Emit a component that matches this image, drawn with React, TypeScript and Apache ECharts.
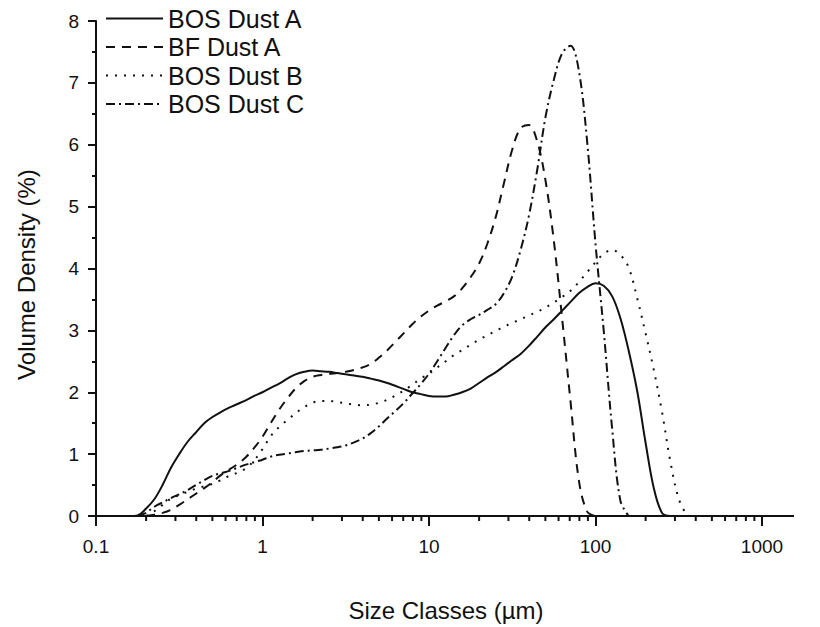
import React, { useEffect, useRef } from "react";
import * as echarts from "echarts";

// Size classes (µm), 20 classes per decade, as in a laser-diffraction report
const sizeClasses = [
  0.158, 0.178, 0.2, 0.224, 0.251, 0.282, 0.316, 0.355, 0.398, 0.447,
  0.501, 0.562, 0.631, 0.708, 0.794, 0.891, 1.0, 1.12, 1.26, 1.41,
  1.58, 1.78, 2.0, 2.24, 2.51, 2.82, 3.16, 3.55, 3.98, 4.47,
  5.01, 5.62, 6.31, 7.08, 7.94, 8.91, 10.0, 11.2, 12.6, 14.1,
  15.8, 17.8, 20.0, 22.4, 25.1, 28.2, 31.6, 35.5, 39.8, 44.7,
  50.1, 56.2, 63.1, 70.8, 79.4, 89.1, 100, 112, 126, 141,
  158, 178, 200, 224, 251, 282, 316, 355,
];

// Volume density (%) per size class (null = not drawn)
const bosDustA = [
  0, 0.01, 0.12, 0.27, 0.5, 0.78, 1.0, 1.2, 1.35, 1.5,
  1.6, 1.68, 1.75, 1.81, 1.87, 1.94, 2.0, 2.07, 2.14, 2.22,
  2.29, 2.33, 2.35, 2.34, 2.33, 2.31, 2.29, 2.27, 2.25, 2.22,
  2.19, 2.15, 2.1, 2.05, 2.0, 1.97, 1.94, 1.93, 1.93, 1.96,
  2.0, 2.06, 2.15, 2.24, 2.32, 2.42, 2.52, 2.62, 2.75, 2.9,
  3.05, 3.18, 3.32, 3.46, 3.6, 3.7, 3.76, 3.72, 3.55, 3.2,
  2.68, 2.02, 1.18, 0.45, 0.05, 0, null, null,
];
const bfDustA = [
  null, null, 0, 0.02, 0.05, 0.1, 0.18, 0.27, 0.36, 0.45,
  0.55, 0.66, 0.75, 0.84, 0.95, 1.1, 1.28, 1.5, 1.72, 1.9,
  2.06, 2.18, 2.25, 2.28, 2.3, 2.31, 2.33, 2.36, 2.4, 2.46,
  2.56, 2.68, 2.82, 2.96, 3.1, 3.22, 3.32, 3.4, 3.47, 3.55,
  3.68, 3.86, 4.08, 4.4, 4.82, 5.38, 5.92, 6.27, 6.32, 6.05,
  5.42, 4.45, 3.18, 1.85, 0.58, 0.07, 0, null, null, null,
  null, null, null, null, null, null, null, null,
];
const bosDustB = [
  null, null, 0, 0.08, 0.18, 0.28, 0.34, 0.39, 0.44, 0.48,
  0.52, 0.58, 0.65, 0.7, 0.77, 0.9, 1.08, 1.29, 1.44, 1.55,
  1.66, 1.76, 1.83, 1.86, 1.86, 1.84, 1.82, 1.8, 1.79, 1.8,
  1.83, 1.88, 1.95, 2.03, 2.12, 2.22, 2.3, 2.4, 2.5, 2.6,
  2.68, 2.77, 2.85, 2.92, 2.99, 3.06, 3.12, 3.18, 3.24, 3.3,
  3.37, 3.45, 3.54, 3.64, 3.78, 3.94, 4.1, 4.24, 4.3, 4.22,
  4.02, 3.52, 2.95, 2.36, 1.68, 0.87, 0.28, 0,
];
const bosDustC = [
  null, 0, 0.05, 0.15, 0.22, 0.29, 0.35, 0.42, 0.5, 0.58,
  0.65, 0.69, 0.73, 0.78, 0.83, 0.87, 0.91, 0.96, 0.99, 1.01,
  1.03, 1.05, 1.06, 1.07, 1.09, 1.11, 1.14, 1.19, 1.25, 1.34,
  1.45, 1.58, 1.7, 1.83, 1.98, 2.13, 2.3, 2.5, 2.72, 2.92,
  3.08, 3.18, 3.25, 3.33, 3.42, 3.6, 3.87, 4.3, 4.85, 5.6,
  6.45, 7.05, 7.48, 7.6, 7.2, 6.05, 4.4, 3.0, 1.4, 0.25,
  0, null, null, null, null, null, null, null,
];

const seriesNames = ["BOS Dust A", "BF Dust A", "BOS Dust B", "BOS Dust C"];
const seriesValues = [bosDustA, bfDustA, bosDustB, bosDustC];
const xTickLabels = [0.1, 1, 10, 100, 1000];
const yMin = 0;
const yMax = 8;

const FONT = "'Liberation Sans', Arial, Helvetica, sans-serif";
const INK = "#111111";
const DASHES: any[] = ["solid", [9, 7], [2, 7], [9, 4, 2, 4]];

export default function App() {
  const ref = useRef<HTMLDivElement>(null);

  useEffect(() => {
    if (!ref.current) return;
    const chart = echarts.init(ref.current, undefined, { renderer: "svg" });

    const minorTicks: number[][] = [];
    for (let d = 0; d < xTickLabels.length - 1; d++) {
      for (let k = 2; k <= 9; k++) minorTicks.push([k * xTickLabels[d], 0]);
    }

    const lineSeries = seriesNames.map((name, i) => ({
      name,
      type: "line",
      data: sizeClasses.map((s, j) => [s, seriesValues[i][j]]),
      showSymbol: false,
      symbol: "none",
      connectNulls: false,
      smooth: 0.35,
      lineStyle: { color: INK, width: 2, type: DASHES[i] },
      itemStyle: { color: INK },
      z: 3,
    }));

    chart.setOption({
      animation: false,
      backgroundColor: "#ffffff",
      textStyle: { fontFamily: FONT },
      grid: { left: 96, right: 58, top: 21, bottom: 104 },
      legend: {
        data: seriesNames,
        orient: "vertical",
        left: 100,
        top: 1,
        itemWidth: 57,
        itemHeight: 14,
        itemGap: 3.5,
        itemStyle: { opacity: 0 },
        textStyle: { fontSize: 25, color: INK, fontFamily: FONT },
      },
      xAxis: {
        type: "log",
        logBase: 10,
        min: xTickLabels[0],
        max: xTickLabels[xTickLabels.length - 1],
        name: "Size Classes (µm)",
        nameLocation: "middle",
        nameGap: 82,
        nameTextStyle: { fontSize: 24, color: INK, fontFamily: FONT, padding: [0, 0, 0, 34] },
        axisLine: { show: true, onZero: false, lineStyle: { color: INK, width: 2 } },
        axisTick: { show: true, inside: false, length: 10, lineStyle: { color: INK, width: 2 } },
        axisLabel: {
          fontSize: 19,
          color: INK,
          margin: 21,
          fontFamily: FONT,
          formatter: (v: number) => (v >= 1 ? String(Math.round(v)) : String(Number(v.toPrecision(3)))),
        },
        splitLine: { show: false },
        minorTick: { show: false },
      },
      yAxis: {
        type: "value",
        min: yMin,
        max: yMax,
        interval: 1,
        name: "Volume Density (%)",
        nameLocation: "middle",
        nameGap: 58,
        nameTextStyle: { fontSize: 24, color: INK, fontFamily: FONT, padding: [0, 12, 0, 0] },
        axisLine: { show: true, lineStyle: { color: INK, width: 2 } },
        axisTick: { show: true, inside: false, length: 8, lineStyle: { color: INK, width: 2 } },
        minorTick: { show: true, splitNumber: 2, length: 4, lineStyle: { color: INK, width: 2 } },
        axisLabel: { fontSize: 19, color: INK, margin: 17, fontFamily: FONT },
        splitLine: { show: false },
      },
      series: [
        ...lineSeries,
        {
          type: "custom",
          silent: true,
          clip: false,
          z: 5,
          data: minorTicks,
          renderItem: (_p: any, api: any) => {
            const pt = api.coord([api.value(0), 0]);
            return {
              type: "line",
              shape: { x1: pt[0], y1: pt[1], x2: pt[0], y2: pt[1] + 5 },
              style: { stroke: INK, lineWidth: 2 },
            };
          },
        },
      ],
    });

    const end = chart.convertToPixel({ gridIndex: 0 }, [xTickLabels[xTickLabels.length - 1], 0]) as number[];
    if (end && isFinite(end[0])) {
      chart.setOption({
        graphic: [
          {
            type: "line",
            shape: { x1: end[0], y1: end[1], x2: end[0] + 32, y2: end[1] },
            style: { stroke: INK, lineWidth: 2 },
          },
        ],
      });
    }

    return () => chart.dispose();
  }, []);

  return (
    <div
      ref={ref}
      style={{ position: "fixed", left: 0, top: 0, width: 820, height: 627, background: "#fff" }}
    />
  );
}
